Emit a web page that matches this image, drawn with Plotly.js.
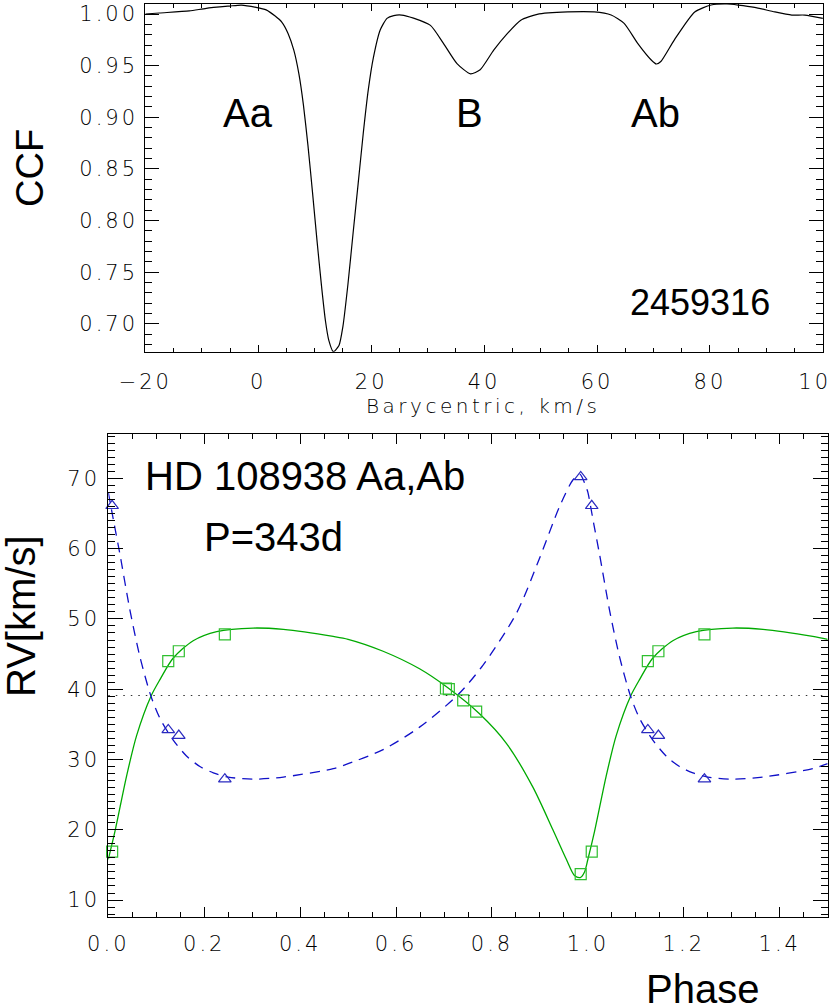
<!DOCTYPE html>
<html>
<head>
<meta charset="utf-8">
<script src="https://cdn.plot.ly/plotly-3.0.1.min.js"></script>
<style>
    html, body { margin: 0; padding: 0; background: #fff; }
    #chart { width: 830px; height: 1007px; }
    /* IDL-style wide tick lettering */
    .xtick text, .ytick text, .x2tick text, .y2tick text { letter-spacing: 3px; }
</style>
</head>
<body>
<div id="chart"></div>
<script>
// CCF of the spectrum taken on JD 2459316
const JD_LABEL = '2459316';
const ccfVelocity = [
    -20.0, -17.5, -12.2, -9.2, -5.1, -3.0, -0.4, 1.4, 3.0, 4.2, 5.3, 6.3, 7.2, 8.0, 8.8,
    9.6, 10.4, 11.2, 11.9, 12.5, 13.3, 14.3, 15.0, 15.9, 16.8, 17.7, 18.6, 19.5, 20.4, 21.6, 22.8,
    24.0, 25.4, 27.5, 30.5, 32.8, 35.2, 37.6, 39.3, 41.7, 44.1, 46.5, 49.4, 54.8, 59.5, 62.5,
    64.8, 67.2, 69.6, 70.5, 71.3, 73.7, 77.3, 80.2, 83.0, 85.0, 87.9, 91.5, 94.5, 96.8, 100.0,
];
const ccfValue = [
    1.000, 1.001, 1.003, 1.0055, 1.0077, 1.0087, 1.0065, 1.004, 0.998, 0.992, 0.981, 0.965, 0.942, 0.912, 0.873,
    0.828, 0.781, 0.737, 0.703, 0.684, 0.673, 0.679, 0.6975, 0.739, 0.788, 0.836, 0.8845, 0.927, 0.958, 0.9845, 0.9958,
    0.9985, 0.999, 0.996, 0.989, 0.9716, 0.952, 0.942, 0.946, 0.965, 0.981, 0.994, 0.9997, 1.002, 1.002, 0.999,
    0.991, 0.9716, 0.9555, 0.9516, 0.954, 0.975, 1.002, 1.0087, 1.0097, 1.0087, 1.0065, 1.002, 0.999, 0.999, 0.9958,
];

// RV observations of HD 108938 Aa,Ab folded with P = 343 d
const STAR_LABEL = 'HD 108938 Aa,Ab';
const PERIOD_LABEL = 'P=343d';
const GAMMA = 39.1;
const obsPhase = [0.008, 0.125, 0.147, 0.243, 0.704, 0.710, 0.740, 0.767, 0.985];
const obsRvAa = [16.9, 44.0, 45.4, 47.8, 40.1, 40.0, 38.4, 36.8, 13.7];
const obsRvAb = [66.1, 34.2, 33.4, 27.2, null, null, null, null, 70.2];

// orbit curves over one period
const aaCurvePhase = [
    0.000, 0.014, 0.038, 0.059, 0.089, 0.108, 0.135, 0.177, 0.226, 0.302, 0.365, 0.469, 0.500,
    0.573, 0.649, 0.708, 0.774, 0.830, 0.885, 0.927, 0.955, 0.972, 0.984, 0.993, 1.000,
];
const aaCurveRv = [
    15.8, 19.8, 27.6, 33.4, 39.0, 41.4, 44.4, 46.9, 48.2, 48.7, 48.5, 47.5, 47.1,
    45.4, 42.9, 40.2, 36.5, 32.3, 26.1, 20.0, 15.8, 13.5, 13.2, 14.0, 15.8,
];
const abCurvePhase = [
    0.000, 0.012, 0.024, 0.045, 0.066, 0.089, 0.108, 0.135, 0.163, 0.191, 0.219, 0.250, 0.302, 0.365,
    0.469, 0.500, 0.573, 0.649, 0.729, 0.781, 0.851, 0.899, 0.941, 0.969, 0.983, 0.997, 1.000,
];
const abCurveRv = [
    68.0, 63.6, 59.3, 51.3, 44.6, 39.0, 35.8, 32.8, 30.5, 29.0, 28.1, 27.5, 27.2, 27.5,
    28.7, 29.4, 31.4, 34.6, 39.2, 43.4, 50.8, 58.6, 66.0, 69.8, 70.6, 68.6, 68.0,
];

const MAX_PHASE = 1.5;

// repeat the first half-period after phase 1, as in the original plot
function foldExtend(phases, values) {
    const xs = [];
    const ys = [];
    phases.forEach((p, i) => { xs.push(p); ys.push(values[i]); });
    phases.forEach((p, i) => {
        if (p > 0 && p + 1 <= MAX_PHASE) { xs.push(p + 1); ys.push(values[i]); }
    });
    return { x: xs, y: ys };
}

function foldPoints(phases, values) {
    const xs = [];
    const ys = [];
    [0, 1].forEach((shift) => {
        phases.forEach((p, i) => {
            if (values[i] !== null && p + shift <= MAX_PHASE) { xs.push(p + shift); ys.push(values[i]); }
        });
    });
    return { x: xs, y: ys };
}

const aaCurve = foldExtend(aaCurvePhase, aaCurveRv);
const abCurve = foldExtend(abCurvePhase, abCurveRv);
const aaPoints = foldPoints(obsPhase, obsRvAa);
const abPoints = foldPoints(obsPhase, obsRvAb);

const GREEN = '#00aa00';
const BLUE = '#1010c8';
const TICK_FONT = { family: 'DejaVu Sans', size: 21, color: '#000', weight: 200 };
const TEXT_FONT = { family: 'Liberation Sans, Arial, sans-serif', size: 40, color: '#000' };

const W = 830;
const H = 1007;

function axisBase() {
    return {
        showline: true,
        linecolor: '#000',
        linewidth: 1,
        mirror: 'allticks',
        ticks: 'inside',
        tickcolor: '#000',
        tickwidth: 1,
        showgrid: false,
        zeroline: false,
        tickfont: TICK_FONT,
        ticklabeloverflow: 'allow',
        fixedrange: true,
    };
}

function label(text, x, y, extra) {
    return { text, x, y, xanchor: 'center', yanchor: 'middle', showarrow: false, font: TEXT_FONT, ...extra };
}

const traces = [
    {
        x: ccfVelocity, y: ccfValue, xaxis: 'x', yaxis: 'y',
        type: 'scatter', mode: 'lines',
        line: { color: '#000', width: 1.2, shape: 'spline', smoothing: 0.6 },
    },
    {
        x: aaCurve.x, y: aaCurve.y, xaxis: 'x2', yaxis: 'y2',
        type: 'scatter', mode: 'lines',
        line: { color: GREEN, width: 1.3, shape: 'spline', smoothing: 0.8 },
    },
    {
        x: abCurve.x, y: abCurve.y, xaxis: 'x2', yaxis: 'y2',
        type: 'scatter', mode: 'lines',
        line: { color: BLUE, width: 1.3, dash: '10px,7px', shape: 'spline', smoothing: 0.8 },
    },
    {
        x: aaPoints.x, y: aaPoints.y, xaxis: 'x2', yaxis: 'y2',
        type: 'scatter', mode: 'markers', cliponaxis: false,
        marker: { symbol: 'square-open', size: 11, color: '#2fbf2f', line: { width: 1.2 } },
    },
    {
        x: abPoints.x, y: abPoints.y, xaxis: 'x2', yaxis: 'y2',
        type: 'scatter', mode: 'markers', cliponaxis: false,
        marker: { symbol: 'triangle-up-open', size: 11, color: '#2a2ac0', line: { width: 1.2 } },
    },
];

const layout = {
    width: W,
    height: H,
    margin: { l: 0, r: 0, t: 0, b: 0 },
    paper_bgcolor: '#fff',
    plot_bgcolor: '#fff',
    showlegend: false,
    xaxis: {
        ...axisBase(),
        domain: [145.3 / W, 822.9 / W],
        anchor: 'y',
        range: [-20, 100],
        tick0: 0,
        dtick: 20,
        ticklen: 7,
        ticklabelstandoff: 11,
        minor: { dtick: 5, ticklen: 3.5, ticks: 'inside', tickcolor: '#000' },
    },
    yaxis: {
        ...axisBase(),
        domain: [1 - 351.7 / H, 1 - 4 / H],
        anchor: 'x',
        range: [0.673, 1.0097],
        tick0: 0,
        dtick: 0.05,
        tickformat: '.2f',
        ticklen: 14,
        ticklabelstandoff: 2,
        minor: { dtick: 0.01, ticklen: 7, ticks: 'inside', tickcolor: '#000' },
    },
    xaxis2: {
        ...axisBase(),
        domain: [108.3 / W, 827.7 / W],
        anchor: 'y2',
        range: [0, MAX_PHASE],
        tick0: 0,
        dtick: 0.2,
        tickformat: '.1f',
        ticklen: 9.5,
        ticklabelstandoff: 8,
        minor: { dtick: 0.05, ticklen: 4.5, ticks: 'inside', tickcolor: '#000' },
    },
    yaxis2: {
        ...axisBase(),
        domain: [1 - 916.7 / H, 1 - 434 / H],
        anchor: 'x2',
        range: [7.63, 76.31],
        tick0: 0,
        dtick: 10,
        ticklen: 14.4,
        ticklabelstandoff: 3,
        minor: { dtick: 1, ticklen: 7, ticks: 'inside', tickcolor: '#000' },
    },
    shapes: [{
        type: 'line', xref: 'x2 domain', yref: 'y2',
        x0: 0, x1: 1, y0: GAMMA, y1: GAMMA,
        line: { color: '#333', width: 1.2, dash: '1.5px,6px' },
    }],
    annotations: [
        label('Aa', -1.9, 0.904, { xref: 'x', yref: 'y' }),
        label('B', 37.4, 0.904, { xref: 'x', yref: 'y' }),
        label('Ab', 70.4, 0.904, { xref: 'x', yref: 'y' }),
        label(JD_LABEL, 78.3, 0.7208, { xref: 'x', yref: 'y', font: { ...TEXT_FONT, size: 36 } }),
        label(STAR_LABEL, 0.0729, 70.33, { xref: 'x2', yref: 'y2', xanchor: 'left' }),
        label(PERIOD_LABEL, 0.1946, 61.6, { xref: 'x2', yref: 'y2', xanchor: 'left' }),
        label('CCF', 30 / W, 1 - 168 / H, { xref: 'paper', yref: 'paper', textangle: -90, font: { ...TEXT_FONT, size: 38 } }),
        label('RV[km/s]', 21 / W, 1 - 616 / H, { xref: 'paper', yref: 'paper', textangle: -90, font: { ...TEXT_FONT, size: 40 } }),
        label('<span style="letter-spacing:3.5px">Barycentric, km/s</span>', 483.3 / W, 1 - 406 / H,
            { xref: 'paper', yref: 'paper', font: { ...TICK_FONT, size: 20 } }),
        label('Phase', 702 / W, 1 - 989 / H, { xref: 'paper', yref: 'paper' }),
    ],
};

Plotly.newPlot('chart', traces, layout, { displayModeBar: false, staticPlot: true });
</script>
</body>
</html>
